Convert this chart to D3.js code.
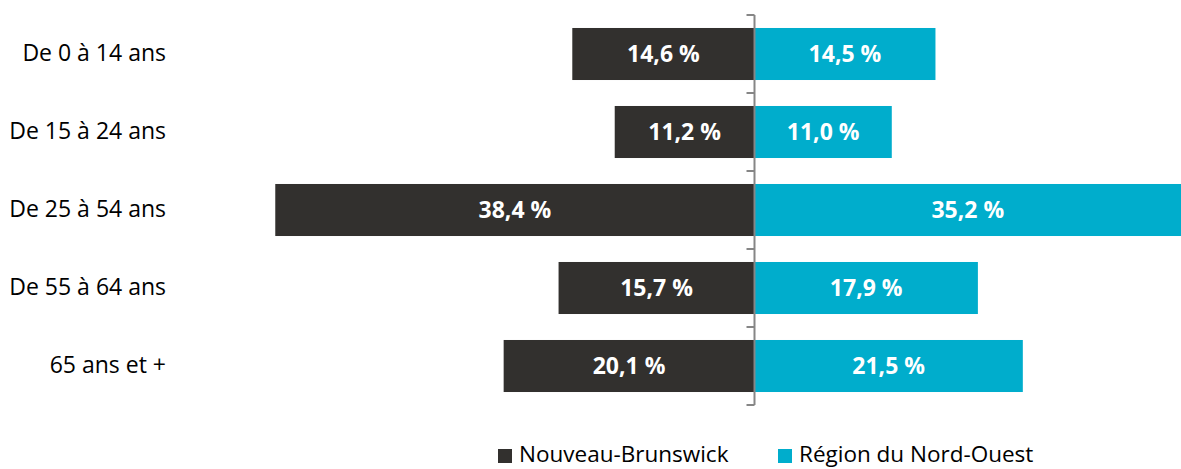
<!DOCTYPE html>
<html>
<head>
<meta charset="utf-8">
<script src="https://cdn.jsdelivr.net/npm/d3@7"></script>
<style>
  body { margin: 0; background: #fff; }
  text { font-family: "Open Sans", sans-serif; }
</style>
</head>
<body>
<script>
const categories = ['De 0 à 14 ans', 'De 15 à 24 ans', 'De 25 à 54 ans', 'De 55 à 64 ans', '65 ans et +'];
const nbValues = [14.6, 11.2, 38.4, 15.7, 20.1];
const nordOuestValues = [14.5, 11.0, 35.2, 17.9, 21.5];
const seriesNames = ['Nouveau-Brunswick', 'Région du Nord-Ouest'];
const colors = ['#32302e', '#00adcc'];

const W = 1181, H = 469;
const center = 754.5;
const pxPerPct = 12.48;

const svg = d3.select('body').append('svg')
  .attr('width', W)
  .attr('height', H);

const y = d3.scaleBand()
  .domain(categories)
  .range([15, 405])
  .paddingInner(0.333)
  .paddingOuter(0.1665);

const xLeft = d3.scaleLinear().domain([0, 40]).range([center, center - 40 * pxPerPct]);
const xRight = d3.scaleLinear().domain([0, 40]).range([center, center + 40 * pxPerPct]);

const fmt = v => v.toFixed(1).replace('.', ',') + ' %';

// left bars
svg.selectAll('.nb')
  .data(categories)
  .enter()
  .append('rect')
  .attr('class', 'nb')
  .attr('x', (d, i) => xLeft(nbValues[i]))
  .attr('y', d => y(d))
  .attr('width', (d, i) => center - xLeft(nbValues[i]))
  .attr('height', y.bandwidth())
  .style('fill', colors[0]);

// right bars
svg.selectAll('.no')
  .data(categories)
  .enter()
  .append('rect')
  .attr('class', 'no')
  .attr('x', center)
  .attr('y', d => y(d))
  .attr('width', (d, i) => xRight(nordOuestValues[i]) - center)
  .attr('height', y.bandwidth())
  .style('fill', colors[1]);

// value labels
svg.selectAll('.nbLabel')
  .data(categories)
  .enter()
  .append('text')
  .attr('x', (d, i) => (xLeft(nbValues[i]) + center) / 2)
  .attr('y', d => y(d) + y.bandwidth() / 2)
  .attr('dy', '0.36em')
  .attr('text-anchor', 'middle')
  .style('fill', '#fff')
  .style('font-weight', 'bold')
  .style('font-size', '23px')
  .text((d, i) => fmt(nbValues[i]));

svg.selectAll('.noLabel')
  .data(categories)
  .enter()
  .append('text')
  .attr('x', (d, i) => (Math.min(xRight(nordOuestValues[i]), W) + center) / 2)
  .attr('y', d => y(d) + y.bandwidth() / 2)
  .attr('dy', '0.36em')
  .attr('text-anchor', 'middle')
  .style('fill', '#fff')
  .style('font-weight', 'bold')
  .style('font-size', '23px')
  .text((d, i) => fmt(nordOuestValues[i]));

// center axis with ticks on the band boundaries
const axisG = svg.append('g').style('stroke', '#868686').style('stroke-width', 2);
axisG.append('line')
  .attr('x1', center).attr('x2', center)
  .attr('y1', y.range()[0]).attr('y2', y.range()[1]);
const bounds = categories.map((d, i) => y.range()[0] + i * y.step());
bounds.push(y.range()[1]);
axisG.selectAll('.tick')
  .data(bounds)
  .enter()
  .append('line')
  .attr('x1', center - 8).attr('x2', center)
  .attr('y1', d => d).attr('y2', d => d);

// category labels
svg.selectAll('.cat')
  .data(categories)
  .enter()
  .append('text')
  .attr('x', 166)
  .attr('y', d => y(d) + y.bandwidth() / 2)
  .attr('dy', '0.3em')
  .attr('text-anchor', 'end')
  .style('fill', '#000')
  .style('font-size', '23px')
  .text(d => d);

// legend
const legendX = [498, 778];
const legend = svg.selectAll('.legend')
  .data(seriesNames)
  .enter()
  .append('g')
  .attr('transform', (d, i) => `translate(${legendX[i]}, 0)`);
legend.append('rect')
  .attr('x', 0).attr('y', 449)
  .attr('width', 14).attr('height', 14)
  .style('fill', (d, i) => colors[i]);
legend.append('text')
  .attr('x', 21)
  .attr('y', 462)
  .style('font-size', '22.5px')
  .style('fill', '#000')
  .text(d => d);
</script>
</body>
</html>
